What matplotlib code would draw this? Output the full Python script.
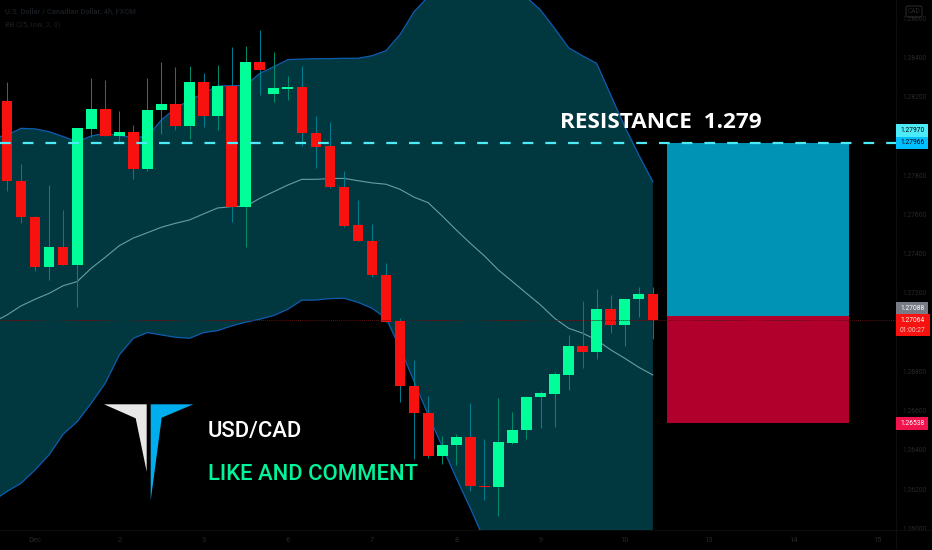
import numpy as np
import matplotlib
matplotlib.use("Agg")
import matplotlib.pyplot as plt
from matplotlib.patches import Rectangle, Polygon, FancyBboxPatch
from matplotlib.transforms import Affine2D

# ---- data (prices x 1e5) ----
opens = [128177,127771,127586,127331,127434,127343,128037,128139,128000,128022,127834,128131,128163,128051,128273,128104,
         128253,127638,128377,128216,128241,128250,128015,127949,127740,127547,127465,127290,127057,126728,126590,126368,
         126424,126465,126218,126213,126437,126502,126668,126687,126784,126928,126898,127120,127039,127168,127195]
closes = [127771,127586,127331,127436,127343,128039,128139,128002,128022,127834,128133,128163,128051,128273,128104,128253,
          127638,128377,128338,128243,128250,128015,127946,127740,127543,127465,127290,127054,126728,126589,126368,126427,
          126465,126218,126211,126441,126504,126672,126689,126786,126928,126898,127120,127039,127171,127195,127062]
highs = [128277,127857,127592,127750,127621,128039,128296,128285,128127,128054,128294,128375,128350,128358,128319,128362,
         128452,128459,128540,128428,128306,128355,128102,128070,127820,127674,127553,127351,127071,126859,126677,126473,
         126481,126641,126454,126665,126594,126675,126701,126797,126986,127158,127220,127188,127175,127229,127229]
lows = [127721,127555,127314,127266,127343,127129,127997,128002,127971,127783,127823,128010,128031,127985,128046,128031,
        127560,127436,128209,128175,128183,127951,127837,127737,127538,127465,127283,127054,126646,126354,126361,126330,
        126324,126189,126145,126065,126432,126454,126510,126519,126706,126816,126864,126995,126932,127078,126966]
# Bollinger bands start one bar before the first visible candle
bb_upper = [127990,128005,128039,128036,128022,127997,127971,128000,128014,128002,127993,127997,128082,128141,128183,128217,
            128255,128256,128258,128319,128353,128389,128392,128394,128394,128396,128396,128409,128435,128518,128634,128710,
            128761,128829,128863,128863,128846,128795,128707,128642,128549,128450,128408,128370,128209,128048,127903,127767]
bb_lower = [126140,126188,126230,126298,126375,126480,126544,126638,126740,126884,126969,126998,126986,126974,126969,126998,
            127008,127032,127051,127066,127085,127117,127163,127164,127171,127173,127152,127122,127071,126918,126748,126578,
            126417,126256,126103,125941,125822,125738,125687,125670,125687,125721,125755,125789,125822,125856,125890,125924]
bb_basis = [127050,127088,127134,127168,127198,127237,127258,127326,127382,127441,127480,127507,127535,127555,127572,127603,
            127633,127640,127642,127682,127716,127750,127779,127779,127783,127784,127772,127761,127754,127728,127688,127660,
            127592,127521,127453,127389,127317,127258,127198,127139,127071,127020,126995,126960,126910,126867,126821,126782]
y_ticks = [1.286,1.284,1.282,1.278,1.276,1.274,1.272,1.268,1.266,1.264,1.262,1.260]
x_tick_pos = [2,8,14,20,26,32,38,44,50,56,62]
x_tick_labels = ["Dec","2","3","6","7","8","9","10","13","14","15"]
resistance = 1.27966
last_price = 1.27064
position_mid = 1.27084
position_stop = 1.26538
position_span = (47, 60)

SCALE = 1e5
o, c, h, l = [np.array(a)/SCALE for a in (opens, closes, highs, lows)]
up, lo, mid = [np.array(a)/SCALE for a in (bb_upper, bb_lower, bb_basis)]
xs = np.arange(len(o))
xb = np.arange(-1, len(o))

plt.rcParams["font.family"] = "Roboto"
GREEN = "#00FF99"; RED = "#F7120F"; AXISTXT = "#26282b"; TAGSIZE = 4.8
fig = plt.figure(figsize=(9.32, 5.5), dpi=100, facecolor="black")
ax = fig.add_axes([0, 0, 1, 1], facecolor="black")
ax.set_xlim(-0.4986, 65.883)
ax.set_ylim(1.25890, 1.28693)
for s in ax.spines.values():
    s.set_visible(False)
px = Affine2D().scale(1, -1).translate(0, 550)

# bands
pane = Rectangle((-2, 1.25992), 100, 1, transform=ax.transData)
f = ax.fill_between(xb, lo, up, color="#01383F", lw=0, zorder=1)
f.set_clip_path(pane)
for arr, col, lw in ((up, "#0F5CB0", 0.9), (lo, "#0F5CB0", 0.9), (mid, "#6A9CA2", 0.8)):
    ln, = ax.plot(xb, arr, color=col, lw=lw, zorder=1.5)
    ln.set_clip_path(pane)

# candles
isup = c >= o
ax.vlines(xs, l, h, colors=np.where(isup, "#008A6C", "#007C8E"), lw=0.75, zorder=2)
ax.bar(xs, np.abs(c-o), bottom=np.minimum(o, c), width=0.76,
       color=np.where(isup, GREEN, RED), lw=0, zorder=3)

# position tool
ax.fill_between(position_span, position_mid, resistance, color="#0093B5", lw=0, zorder=3.5)
ax.fill_between(position_span, position_stop, position_mid, color="#B2002C", lw=0, zorder=3.5)

# price lines
ax.plot([-0.4986, 63.3], [last_price]*2, color="#5A1212", lw=0.7, ls=(0, (1, 1)), zorder=3.6)
ax.plot([-0.4986, 63.3], [resistance]*2, color="#4DEBF7", lw=1.6, zorder=4,
        dashes=(10.7/2.22, 12/2.22), dash_capstyle="butt")

# axes
ax.set_yticks(y_ticks, [f"{t:.5f}" for t in y_ticks])
ax.set_xticks(x_tick_pos, x_tick_labels)
ax.tick_params(axis="y", left=False, right=False, labelleft=False, labelright=True, length=0,
               pad=-30*0.72, labelsize=TAGSIZE, labelcolor=AXISTXT)
ax.tick_params(axis="x", bottom=False, length=0, pad=-13*0.72, labelsize=5.4, labelcolor=AXISTXT)
ax.add_line(plt.Line2D([896, 896], [0, 550], transform=px, color="#0E0E0E", lw=0.7))
ax.add_line(plt.Line2D([0, 932], [530, 530], transform=px, color="#0E0E0E", lw=0.7))

# price labels
def tag(y0, y1, col, right=928):
    ax.add_patch(Rectangle((896, y0), right-896, y1-y0, transform=px, color=col, lw=0, zorder=6))
def tagtxt(y, s, col):
    ax.text(912.5, y, s, transform=px, color=col, fontsize=TAGSIZE, ha="center", va="center", zorder=7)
tag(124, 137, "#4DEBF7"); tagtxt(130.5, "1.27970", "black")
tag(137, 149, "#00BFFF"); tagtxt(143, "1.27966", "black")
tag(302, 314.3, "#787B86"); tagtxt(308, "1.27088", "white")
tag(314.3, 336, RED, 930); tagtxt(320, "1.27064", "white"); tagtxt(330, "01:00:27", "#F5C8C8")
tag(417, 429.7, "#F0134D"); tagtxt(423.5, "1.26538", "white")
ax.add_patch(FancyBboxPatch((906, 6), 16, 11, boxstyle="round,pad=0,rounding_size=2", transform=px,
                            fc="none", ec="#2A2C30", lw=0.7, zorder=6))
ax.text(914, 11.5, "CAD", transform=px, color=AXISTXT, fontsize=TAGSIZE, ha="center", va="center", zorder=7)

# header
ax.text(5, 12, "U.S. Dollar / Canadian Dollar, 4h, FXCM", transform=px, color="#1A1E22", fontsize=5.4,
        weight="medium", va="center")
ax.text(5, 25, "BB (25, low, 2, 0)", transform=px, color="#1A1E22", fontsize=5.4, va="center")

# annotations
ax.text(560, 122, "RESISTANCE  1.279", transform=px, color="white", fontsize=16.2, family="Open Sans",
        weight="bold", ha="left", va="center", zorder=8)
ax.text(208, 431, "USD/CAD", transform=px, color="white", fontsize=15.8, family="Roboto",
        weight="medium", ha="left", va="center", zorder=8)
ax.text(208, 475, "LIKE AND COMMENT", transform=px, color="#00F59B", fontsize=15.8, family="Roboto",
        weight="medium", ha="left", va="center", zorder=8)

# logo
ax.add_patch(Polygon([(104, 404.3), (146.7, 404.3), (146.7, 471.7), (135.7, 418.3)], transform=px,
                     fc="#E8E8E8", lw=0, zorder=8))
ax.add_patch(Polygon([(150.7, 404.3), (193.3, 404.3), (161.7, 417.7), (150.7, 500.7)], transform=px,
                     fc="#00AEEF", lw=0, zorder=8))

fig.savefig("out.png", dpi=100, facecolor="black")
